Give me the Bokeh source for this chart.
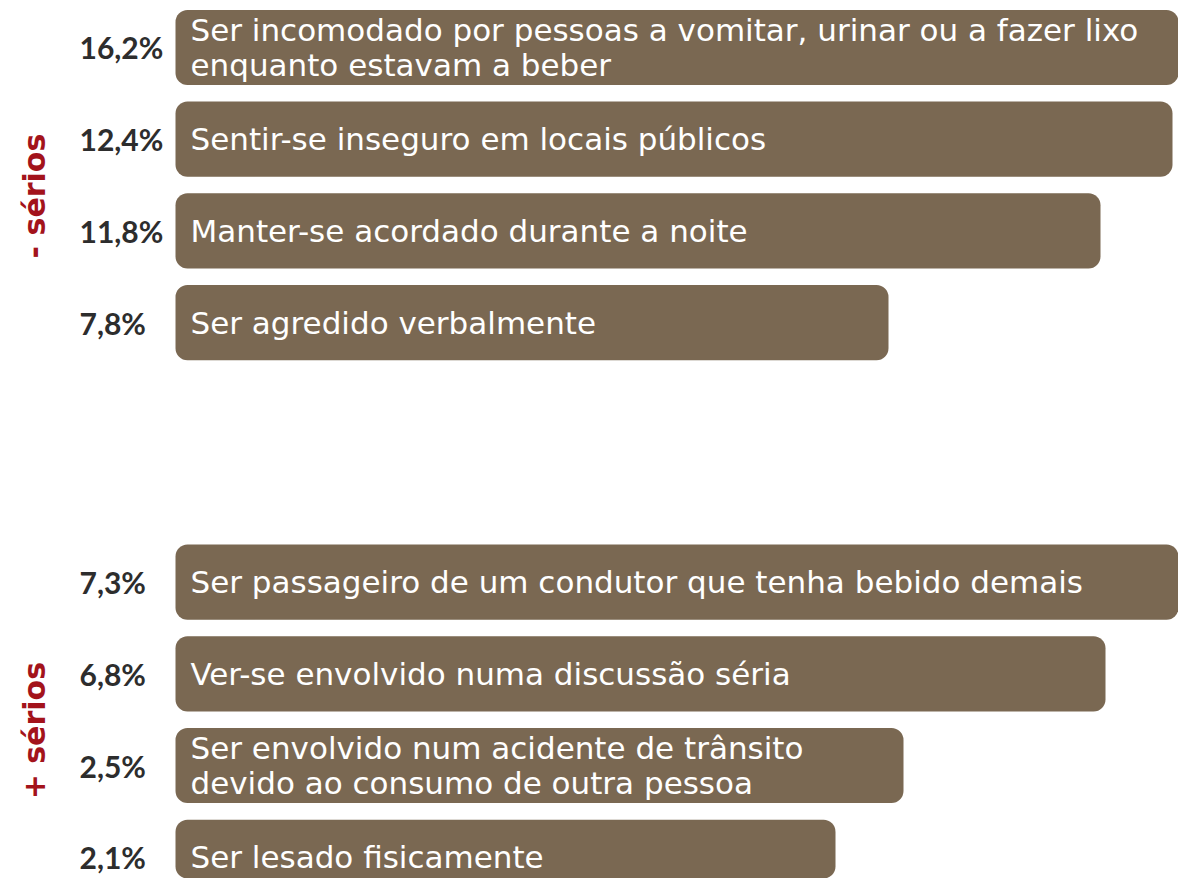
import math
from bokeh.plotting import figure
from bokeh.models import Range1d, ColumnDataSource
from bokeh.core.properties import value
from bokeh.embed import file_html
from bokeh.resources import INLINE

# ---- data ----
categories = [
    "Ser incomodado por pessoas a vomitar, urinar ou a fazer lixo\nenquanto estavam a beber",
    "Sentir-se inseguro em locais públicos",
    "Manter-se acordado durante a noite",
    "Ser agredido verbalmente",
    "Ser passageiro de um condutor que tenha bebido demais",
    "Ver-se envolvido numa discussão séria",
    "Ser envolvido num acidente de trânsito\ndevido ao consumo de outra pessoa",
    "Ser lesado fisicamente",
]
values = [16.2, 12.4, 11.8, 7.8, 7.3, 6.8, 2.5, 2.1]
value_labels = ["16,2%", "12,4%", "11,8%", "7,8%", "7,3%", "6,8%", "2,5%", "2,1%"]
group_of = [0, 0, 0, 0, 1, 1, 1, 1]
group_labels = ["- sérios", "+ sérios"]
# length of each label box (as drawn in the original)
box_len = [1040, 997, 925, 713, 1040, 930, 728, 660]

# ---- layout ----
GROUP_GAP = 1.83
rows = [i + GROUP_GAP * g for i, g in enumerate(group_of)]
group_centers = [sum(r for r, g in zip(rows, group_of) if g == k) / group_of.count(k) + 0.12
                 for k in (0, 1)]

BROWN = "#7a6852"
RED = "#a3131b"
DARK = "#2d2d2d"

src = ColumnDataSource(dict(row=rows, cat=categories, lab=value_labels,
                            box=box_len, val=values))

p = figure(width=1178, height=878, output_backend="svg", toolbar_location=None,
           x_range=Range1d(-175, 1003), y_range=Range1d(9.062, -0.5125),
           min_border=0)
p.axis.visible = False
p.grid.visible = False
p.outline_line_color = None
p.background_fill_color = "white"
p.border_fill_color = "white"

p.hbar(y="row", left=0, right="box", height=0.82, source=src,
       fill_color=BROWN, line_color=None, border_radius=12)

p.text(x=15, y="row", text="cat", source=src,
       text_font=value("DejaVu Sans"), text_font_size="31px",
       text_color="white", text_baseline="middle", text_align="left",
       text_line_height=0.97)

p.text(x=-96, y="row", text="lab", source=src,
       text_font=value("Lato"), text_font_style="bold", text_font_size="30px",
       text_color=DARK, text_baseline="middle", text_align="left")

p.text(x=-141, y=group_centers, text=group_labels, angle=math.pi / 2,
       text_font=value("DejaVu Sans"), text_font_style="bold", text_font_size="30px",
       text_color=RED, text_baseline="middle", text_align="center")

open("out.html", "w").write(file_html(p, INLINE))
